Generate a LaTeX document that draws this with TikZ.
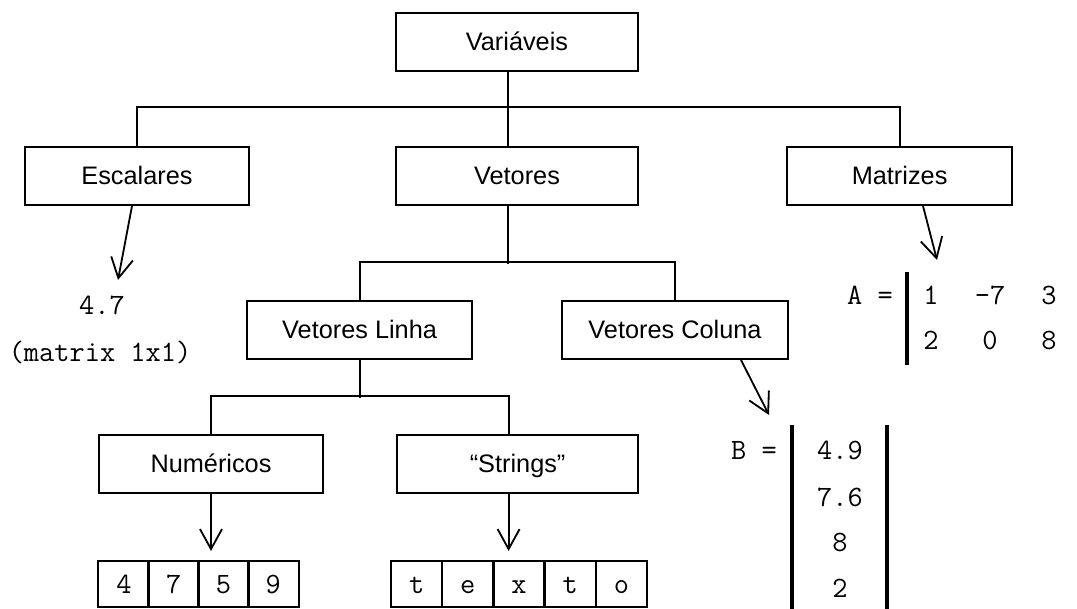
\documentclass[tikz,border=0pt]{standalone}
\usepackage{fontspec}
\setmainfont{Liberation Sans}
\usetikzlibrary{arrows.meta}

\tikzset{
  box/.style={draw, line width=1.4pt, minimum height=1.45cm, inner sep=0pt,
    text height=13.5pt, text depth=1pt, font=\fontsize{18}{22}\selectfont},
  cell/.style={draw, line width=1.4pt, minimum width=1.27cm, minimum height=1.17cm,
    inner sep=0pt, text height=13pt, text depth=0pt, font=\ttfamily\fontsize{21}{24}\selectfont},
  val/.style={inner sep=0pt, text height=13pt, text depth=0pt,
    font=\ttfamily\fontsize{21}{24}\selectfont},
  link/.style={line width=1.3pt},
  pointer/.style={line width=1.3pt, -{Straight Barb[length=0.5cm, width=0.55cm]}},
  bar/.style={line width=2.2pt}
}

\begin{document}
\begin{tikzpicture}
  \useasboundingbox (0,0) rectangle (26.925,-15.2);

  \node[box, minimum width=6.05cm]  (var)  at (12.925, -1.05) {Variáveis};
  \node[box, minimum width=5.6cm]   (esc)  at (3.425, -4.4)   {Escalares};
  \node[box, minimum width=6.05cm]  (vet)  at (12.925, -4.4)  {Vetores};
  \node[box, minimum width=5.625cm] (mat)  at (22.49, -4.4)   {Matrizes};
  \node[box, minimum width=5.625cm] (vlin) at (8.99, -8.25)   {Vetores Linha};
  \node[box, minimum width=5.65cm]  (vcol) at (16.875, -8.25) {Vetores Coluna};
  \node[box, minimum width=5.6cm]   (num)  at (5.275, -11.6)  {Numéricos};
  \node[box, minimum width=6.025cm] (str)  at (12.94, -11.6)  {“Strings”};

  \draw[link] ([xshift=-0.225cm]var.south) -- ([xshift=-0.225cm]vet.north);
  \draw[link] (esc.north) -- ++(0,0.975) -| (mat.north);
  \draw[link] ([xshift=-0.225cm]vet.south) -- ++(0,-1.45);
  \draw[link] (vlin.north) -- ++(0,0.95) -| (vcol.north);
  \draw[link] (vlin.south) -- ++(0,-0.95);
  \draw[link] (num.north) -- ++(0,0.95) -| ([xshift=-0.225cm]str.north);

  % escalar
  \node[val] (sc) at (2.55, -7.625) {4.7};
  \node[val] (scnote) at (2.5, -8.8) {(matrix 1x1)};
  \coordinate (esctip) at (2.95, -7.0);
  \draw[pointer] ([xshift=-0.125cm]esc.south) -- (esctip);

  % matriz A
  \node[val] (aeq) at (21.75, -7.375) {A =};
  \draw[bar] (22.675, -6.8) -- (22.675, -9.125);
  \foreach \v [count=\i] in {1,-7,3}
    \node[val] (a1\i) at ({23.275+1.475*(\i-1)}, -7.375) {\v};
  \foreach \v [count=\i] in {2,0,8}
    \node[val] (a2\i) at ({23.275+1.475*(\i-1)}, -8.5) {\v};
  \coordinate (mattip) at (23.425, -6.5);
  \draw[pointer] ([xshift=0.585cm]mat.south) -- (mattip);

  % vetor coluna B
  \node[val] (beq) at (18.85, -11.25) {B =};
  \draw[bar] (19.8, -10.625) -- (19.8, -15.3);
  \draw[bar] (22.175, -10.625) -- (22.175, -15.3);
  \foreach \v/\y [count=\i] in {4.9/-11.25, 7.6/-12.425, 8/-13.55, 2/-14.7}
    \node[val] (b\i) at (21.0, \y) {\v};
  \coordinate (coltip) at (19.225, -10.375);
  \draw[pointer] ([xshift=1.65cm]vcol.south) -- (coltip);

  % vetores linha
  \foreach \v [count=\i] in {4,7,5,9}
    \node[cell] (n\i) at ({2.475+1.244*\i-0.622}, -14.6) {\v};
  \foreach \v [count=\i] in {t,e,x,t,o}
    \node[cell] (t\i) at ({9.775+1.28*\i-0.64}, -14.6) {\v};
  \path (num.south) ++(0,-1.425) coordinate (numtip);
  \path ([xshift=-0.225cm]str.south) coordinate (strfoot) ++(0,-1.425) coordinate (strtip);
  \draw[pointer] (num.south) -- (numtip);
  \draw[pointer] (strfoot) -- (strtip);
\end{tikzpicture}
\end{document}
